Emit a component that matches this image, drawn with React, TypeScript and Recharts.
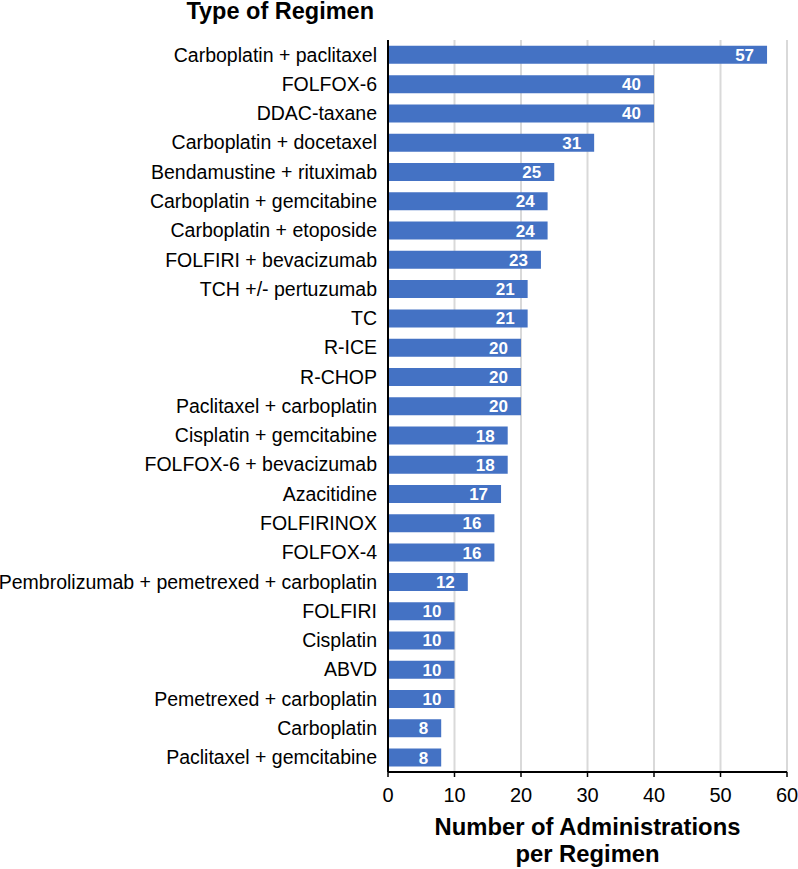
import React from 'react';
import { BarChart, Bar, XAxis, YAxis, CartesianGrid, LabelList, Label } from 'recharts';

const regimens = [
  'Carboplatin + paclitaxel',
  'FOLFOX-6',
  'DDAC-taxane',
  'Carboplatin + docetaxel',
  'Bendamustine + rituximab',
  'Carboplatin + gemcitabine',
  'Carboplatin + etoposide',
  'FOLFIRI + bevacizumab',
  'TCH +/- pertuzumab',
  'TC',
  'R-ICE',
  'R-CHOP',
  'Paclitaxel + carboplatin',
  'Cisplatin + gemcitabine',
  'FOLFOX-6 + bevacizumab',
  'Azacitidine',
  'FOLFIRINOX',
  'FOLFOX-4',
  'Pembrolizumab + pemetrexed + carboplatin',
  'FOLFIRI',
  'Cisplatin',
  'ABVD',
  'Pemetrexed + carboplatin',
  'Carboplatin',
  'Paclitaxel + gemcitabine',
];

const administrations = [57, 40, 40, 31, 25, 24, 24, 23, 21, 21, 20, 20, 20, 18, 18, 17, 16, 16, 12, 10, 10, 10, 10, 8, 8];

const xTicks = [0, 10, 20, 30, 40, 50, 60];

const yTitle = 'Type of Regimen';
const xTitle = ['Number of Administrations', 'per Regimen'];

const data = regimens.map((name, i) => ({ name, count: administrations[i] }));

const FONT = 'Arial, "Liberation Sans", sans-serif';

const YTitle = (props: any) => {
  const { viewBox } = props;
  return (
    <text x={viewBox.x + viewBox.width - 14} y={18.5} textAnchor="end" fontSize={23.5} fontWeight="bold" fill="#000" fontFamily={FONT}>
      {yTitle}
    </text>
  );
};

const XTitle = (props: any) => {
  const { viewBox } = props;
  const cx = viewBox.x + viewBox.width / 2;
  return (
    <g>
      <text x={cx} y={viewBox.y + 63} textAnchor="middle" fontSize={23.8} fontWeight="bold" fill="#000" fontFamily={FONT}>
        {xTitle[0]}
      </text>
      <text x={cx} y={viewBox.y + 89.5} textAnchor="middle" fontSize={23.8} fontWeight="bold" fill="#000" fontFamily={FONT}>
        {xTitle[1]}
      </text>
    </g>
  );
};

export default function App() {
  return (
    <div style={{ position: 'absolute', left: 0, top: 0, background: '#fff' }}>
      <BarChart
        width={798}
        height={869}
        data={data}
        layout="vertical"
        margin={{ top: 40, right: 11, bottom: 0, left: 0 }}
        barCategoryGap="20%"
        style={{ fontFamily: FONT }}
      >
        <CartesianGrid horizontal={false} stroke="#d9d9d9" strokeWidth={2} />
        <XAxis
          type="number"
          domain={[0, 60]}
          ticks={xTicks}
          height={97}
          axisLine={{ stroke: '#000', strokeWidth: 2 }}
          tickLine={{ stroke: '#000', strokeWidth: 1.5 }}
          tickSize={5}
          tickMargin={11}
          tick={{ fill: '#000', fontSize: 20, fontFamily: FONT }}
        >
          <Label content={<XTitle />} />
        </XAxis>
        <YAxis
          type="category"
          dataKey="name"
          width={388}
          interval={0}
          tickLine={false}
          tickSize={0}
          tickMargin={11}
          axisLine={{ stroke: '#000', strokeWidth: 2 }}
          tick={{ fill: '#000', fontSize: 19.5, fontFamily: FONT }}
        >
          <Label content={<YTitle />} />
        </YAxis>
        <Bar dataKey="count" fill="#4472C4" isAnimationActive={false}>
          <LabelList dataKey="count" position="insideRight" offset={13} fill="#fff" fontSize={17} fontWeight="bold" fontFamily={FONT} />
        </Bar>
      </BarChart>
    </div>
  );
}
